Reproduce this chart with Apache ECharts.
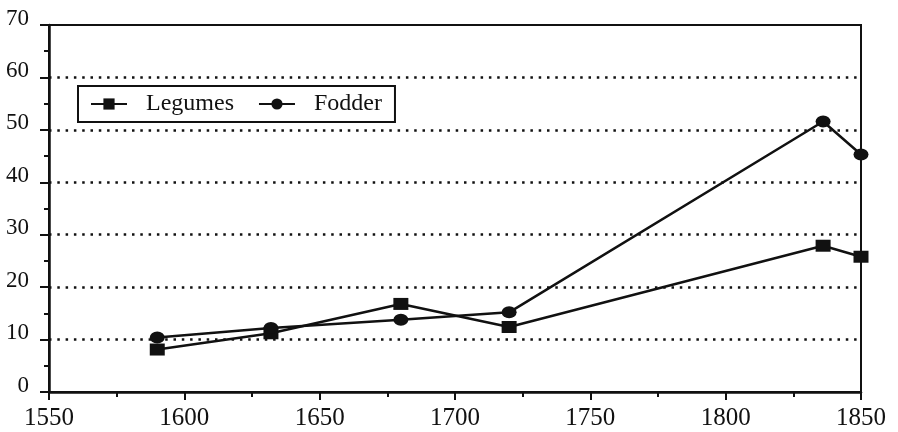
<!DOCTYPE html>
<html>
<head>
<meta charset="utf-8">
<script src="https://cdn.jsdelivr.net/npm/echarts@6/dist/echarts.min.js"></script>
<style>
  html, body { margin: 0; padding: 0; background: #fff; }
  #chart { width: 898px; height: 432px; }
</style>
</head>
<body>
<div id="chart"></div>
<script>
// Survey years and the share recorded for each crop group
const years = [1590, 1632, 1680, 1720, 1836, 1850];
const legumes = [8.1, 11.2, 16.8, 12.4, 27.9, 25.8];
const fodder = [10.4, 12.2, 13.8, 15.2, 51.6, 45.3];
const xTicks = [1550, 1600, 1650, 1700, 1750, 1800, 1850];
const yTicks = [0, 10, 20, 30, 40, 50, 60, 70];

const serif = '"Liberation Serif", "DejaVu Serif", serif';
const ink = '#111';

const pairs = (xs, ys) => xs.map((x, i) => [x, ys[i]]);

const chart = echarts.init(document.getElementById('chart'), null, { renderer: 'canvas' });
chart.setOption({
  backgroundColor: '#fff',
  animation: false,
  grid: {
    left: 49, right: 37, top: 25, bottom: 40,
    show: true, borderColor: ink, borderWidth: 2, backgroundColor: 'transparent'
  },
  legend: {
    left: 78, top: 86,
    orient: 'horizontal',
    backgroundColor: '#fff',
    borderColor: ink, borderWidth: 2, borderRadius: 0,
    padding: [6, 13, 6, 12],
    itemWidth: 36, itemHeight: 14, itemGap: 24,
    textStyle: { fontFamily: serif, fontSize: 24, color: ink, padding: [0, 0, 0, 14] },
    data: ['Legumes', 'Fodder']
  },
  xAxis: {
    type: 'value',
    min: xTicks[0], max: xTicks[xTicks.length - 1], interval: 50,
    axisLine: { show: true, lineStyle: { color: ink, width: 2.5 } },
    axisTick: { show: true, inside: false, length: 8, lineStyle: { color: ink, width: 2 } },
    minorTick: { show: true, splitNumber: 2, length: 5, lineStyle: { color: ink, width: 2 } },
    splitLine: { show: false },
    axisLabel: {
      fontFamily: serif, fontSize: 25, color: ink, margin: 14,
      customValues: xTicks,
      formatter: v => String(v)
    }
  },
  yAxis: {
    type: 'value',
    min: yTicks[0], max: yTicks[yTicks.length - 1], interval: 10,
    axisLine: { show: true, lineStyle: { color: ink, width: 2.5 } },
    axisTick: { show: true, inside: false, length: 9, lineStyle: { color: ink, width: 2 } },
    minorTick: { show: true, splitNumber: 2, length: 5, lineStyle: { color: ink, width: 2 } },
    splitLine: {
      show: true, showMinLine: false, showMaxLine: false,
      lineStyle: { color: ink, width: 2.5, type: [2.5, 5.8] }
    },
    axisLabel: {
      fontFamily: serif, fontSize: 23, color: ink, margin: 20,
      verticalAlign: 'bottom', lineHeight: 13,
      formatter: v => String(v)
    }
  },
  series: [
    {
      name: 'Legumes', type: 'line',
      data: pairs(years, legumes),
      symbol: 'rect', symbolSize: [15, 12],
      lineStyle: { color: ink, width: 2.5 },
      itemStyle: { color: ink, borderWidth: 0 },
      z: 3
    },
    {
      name: 'Fodder', type: 'line',
      data: pairs(years, fodder),
      symbol: 'circle', symbolSize: [15, 12],
      lineStyle: { color: ink, width: 2.5 },
      itemStyle: { color: ink, borderWidth: 0 },
      z: 3
    }
  ]
});
</script>
</body>
</html>
